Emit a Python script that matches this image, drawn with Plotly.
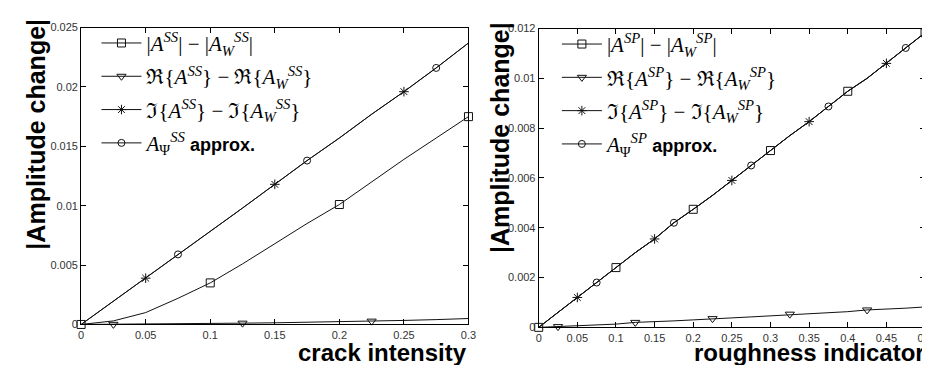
import plotly.graph_objects as go

# ---------------- data: left panel (crack intensity) ----------------
ss_x = [0, 0.025, 0.05, 0.075, 0.1, 0.125, 0.15, 0.175, 0.2, 0.225, 0.25, 0.275, 0.3]
ss_abs = [0, 0.0003, 0.0010, 0.0022, 0.0035, 0.0051, 0.0068, 0.0085, 0.0101, 0.0120, 0.0139, 0.0157, 0.0175]
ss_re = [0, 0.00001, 0.00003, 0.00005, 0.00008, 0.00011, 0.00014, 0.00018, 0.00023, 0.00028, 0.00034, 0.00041, 0.0005]
ss_im = [0, 0.00195, 0.0039, 0.0059, 0.0078, 0.0098, 0.0118, 0.0138, 0.0157, 0.0177, 0.0196, 0.0216, 0.0237]
ss_psi = [0, 0.00195, 0.0039, 0.0059, 0.0078, 0.0098, 0.0118, 0.0138, 0.0157, 0.0177, 0.0196, 0.0216, 0.0237]

# ---------------- data: right panel (roughness indicator) ----------------
sp_x = [0, 0.025, 0.05, 0.075, 0.1, 0.125, 0.15, 0.175, 0.2, 0.225, 0.25,
        0.275, 0.3, 0.325, 0.35, 0.375, 0.4, 0.425, 0.45, 0.475, 0.5]
sp_abs = [0, 0.0006, 0.0012, 0.0018, 0.0024, 0.0030, 0.00355, 0.0042, 0.00474, 0.0053, 0.0059,
          0.0065, 0.0071, 0.0077, 0.00826, 0.00887, 0.00948, 0.0100, 0.0106, 0.01122, 0.01183]
sp_re = [0, 0.00003, 0.00006, 0.00009, 0.00013, 0.0002, 0.00022, 0.00026, 0.0003, 0.00035, 0.00038,
         0.00042, 0.00046, 0.00053, 0.00055, 0.00059, 0.00063, 0.0007, 0.00072, 0.00077, 0.00082]
sp_im = [0, 0.0006, 0.0012, 0.0018, 0.0024, 0.0030, 0.00355, 0.0042, 0.00474, 0.0053, 0.0059,
         0.0065, 0.0071, 0.0077, 0.00826, 0.00887, 0.00948, 0.0100, 0.0106, 0.01122, 0.01183]
sp_psi = [0, 0.0006, 0.0012, 0.0018, 0.0024, 0.0030, 0.00355, 0.0042, 0.00474, 0.0053, 0.0059,
          0.0065, 0.0071, 0.0077, 0.00826, 0.00887, 0.00948, 0.0100, 0.0106, 0.01122, 0.01183]

# ---------------- tick labels ----------------
ss_xticks = [0, 0.05, 0.1, 0.15, 0.2, 0.25, 0.3]
ss_xticklabels = ["0", "0.05", "0.1", "0.15", "0.2", "0.25", "0.3"]
ss_yticks = [0, 0.005, 0.01, 0.015, 0.02, 0.025]
ss_yticklabels = ["0", "0.005", "0.01", "0.015", "0.02", "0.025"]
sp_xticks = [0, 0.05, 0.1, 0.15, 0.2, 0.25, 0.3, 0.35, 0.4, 0.45, 0.5]
sp_xticklabels = ["0", "0.05", "0.1", "0.15", "0.2", "0.25", "0.3", "0.35", "0.4", "0.45", "0.5"]
sp_yticks = [0, 0.002, 0.004, 0.006, 0.008, 0.01, 0.012]
sp_yticklabels = ["0", "0.002", "0.004", "0.006", "0.008", "0.01", "0.012"]

def lab(kind, sup):
    s = f"<i>{sup}</i>"
    A = f"<i>A</i><sup>{s}</sup>"
    AW = f"<i>A</i><sub><i>W</i></sub><sup>{s}</sup>"
    if kind == "abs":
        return f"|{A}| − |{AW}|"
    if kind == "re":
        return f"ℜ{{{A}}} − ℜ{{{AW}}}"
    if kind == "im":
        return f"ℑ{{{A}}} − ℑ{{{AW}}}"
    return (f"<i>A</i><sub>Ψ</sub><sup>{s}</sup> "
            "<span style='font-family:Liberation Sans, Arial, sans-serif;font-size:18px'><b>approx.</b></span>")

styles = [  # (kind, symbol, size, marker offset)
    ("abs", "square-open", 8, 0),
    ("re", "triangle-down-open", 8, 1),
    ("im", "asterisk-open", 8, 2),
    ("psi", "circle-open", 7, 3),
]
LINE = "#111111"

fig = go.Figure()

panels = [
    ("x", "y", "legend", "SS", ss_x, {"abs": ss_abs, "re": ss_re, "im": ss_im, "psi": ss_psi}),
    ("x2", "y2", "legend2", "SP", sp_x, {"abs": sp_abs, "re": sp_re, "im": sp_im, "psi": sp_psi}),
]

for xa, ya, lg, sup, xs, series in panels:
    for i, (kind, sym, ms, off) in enumerate(styles):
        ys = series[kind]
        fig.add_trace(go.Scatter(x=xs, y=ys, mode="lines", xaxis=xa, yaxis=ya,
                                 line=dict(color=LINE, width=1), showlegend=False,
                                 hoverinfo="skip"))
        fig.add_trace(go.Scatter(x=xs[off::4], y=ys[off::4], mode="markers", xaxis=xa, yaxis=ya,
                                 marker=dict(symbol=sym, size=ms, color=LINE,
                                             line=dict(color=LINE, width=1)),
                                 cliponaxis=False, showlegend=False))
        fig.add_trace(go.Scatter(x=[None], y=[None], mode="lines+markers", xaxis=xa, yaxis=ya,
                                 name=lab(kind, sup), legend=lg, legendgroup=f"{lg}{i}",
                                 line=dict(color=LINE, width=1),
                                 marker=dict(symbol=sym, size=ms, color=LINE,
                                             line=dict(color=LINE, width=1))))

tickfont = dict(family="Liberation Sans Narrow, Arial Narrow, Liberation Sans, Arial", size=11, color="#333333")
axcommon = dict(showline=True, linecolor="black", linewidth=1, mirror="ticks", ticks="inside",
                ticklen=5, tickcolor="black", showgrid=False, zeroline=False, tickfont=tickfont,
                tickmode="array")

legfont = dict(family="Liberation Serif, Times New Roman, serif", size=21, color="black")

fig.update_layout(
    width=930, height=365,
    margin=dict(l=0, r=0, t=0, b=0),
    paper_bgcolor="white", plot_bgcolor="white",
    xaxis=dict(domain=[0.0763, 0.4978], range=[0, 0.3], anchor="y",
               tickvals=ss_xticks, ticktext=ss_xticklabels, **axcommon),
    yaxis=dict(domain=[0.1205, 0.9616], range=[0, 0.025], anchor="x",
               tickvals=ss_yticks, ticktext=ss_yticklabels, **axcommon),
    xaxis2=dict(domain=[0.5742, 0.9946], range=[0, 0.5], anchor="y2",
                tickvals=sp_xticks, ticktext=sp_xticklabels, **axcommon),
    yaxis2=dict(domain=[0.1123, 0.9589], range=[0, 0.012], anchor="x2",
                tickvals=sp_yticks, ticktext=sp_yticklabels, **axcommon),
    legend=dict(x=0.093, y=0.975, xanchor="left", yanchor="top", bgcolor="rgba(0,0,0,0)",
                font=legfont, tracegroupgap=3, itemwidth=40),
    legend2=dict(x=0.594, y=0.972, xanchor="left", yanchor="top", bgcolor="rgba(0,0,0,0)",
                 font=legfont, tracegroupgap=3, itemwidth=40),
    showlegend=True,
)

title_font = dict(family="Liberation Sans, Arial, sans-serif", size=24, color="black")
fig.add_annotation(text="<b>crack intensity</b>", xref="paper", yref="paper",
                   x=462 / 930, y=0, xanchor="right", yanchor="bottom",
                   showarrow=False, font=title_font, borderpad=0)
fig.add_annotation(text="<b>roughness indicator</b>", xref="paper", yref="paper",
                   x=926 / 930, y=0, xanchor="right", yanchor="bottom",
                   showarrow=False, font=title_font, borderpad=0)
ytitle_font = dict(family="Liberation Sans, Arial, sans-serif", size=25, color="black")
fig.add_annotation(text="<b>|Amplitude change|</b>", xref="paper", yref="paper",
                   x=25 / 930, y=(365 - 124) / 365, xanchor="center", yanchor="middle",
                   textangle=-90, showarrow=False, font=ytitle_font)
fig.add_annotation(text="<b>|Amplitude change|</b>", xref="paper", yref="paper",
                   x=495 / 930, y=(365 - 128) / 365, xanchor="center", yanchor="middle",
                   textangle=-90, showarrow=False, font=ytitle_font)

fig.write_html("out.html")
